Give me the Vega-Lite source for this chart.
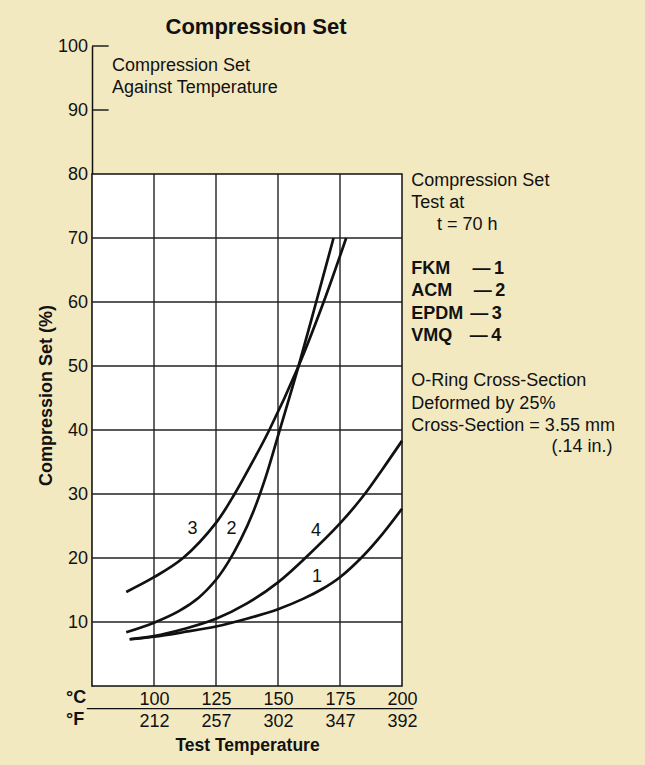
{
  "$schema": "https://vega.github.io/schema/vega-lite/v6.json",
  "width": 310,
  "height": 640,
  "autosize": {"type": "none"},
  "padding": {"left": 92, "top": 46, "right": 243, "bottom": 79},
  "background": "#f2e9c1",
  "config": {"view": {"stroke": null}, "font": "Liberation Sans"},
  "title": {"text": "Compression Set", "font": "Liberation Sans", "fontSize": 22, "fontWeight": "bold", "color": "#111", "anchor": "middle", "frame": "group", "dx": 9, "offset": -2},
  "datasets": {
    "curves": [
      {"material": "FKM", "temp": 90.2, "value": 7.3},
      {"material": "FKM", "temp": 100, "value": 7.7},
      {"material": "FKM", "temp": 111.7, "value": 8.4},
      {"material": "FKM", "temp": 125, "value": 9.3},
      {"material": "FKM", "temp": 137.4, "value": 10.5},
      {"material": "FKM", "temp": 150, "value": 12.0},
      {"material": "FKM", "temp": 160.3, "value": 13.65},
      {"material": "FKM", "temp": 168, "value": 15.2},
      {"material": "FKM", "temp": 175, "value": 17.0},
      {"material": "FKM", "temp": 184, "value": 20.2},
      {"material": "FKM", "temp": 192, "value": 23.7},
      {"material": "FKM", "temp": 200, "value": 27.7},
      {"material": "ACM", "temp": 88.8, "value": 8.4},
      {"material": "ACM", "temp": 100, "value": 9.9},
      {"material": "ACM", "temp": 110, "value": 11.7},
      {"material": "ACM", "temp": 118, "value": 13.8},
      {"material": "ACM", "temp": 125, "value": 16.6},
      {"material": "ACM", "temp": 130, "value": 19.4},
      {"material": "ACM", "temp": 135, "value": 22.9},
      {"material": "ACM", "temp": 140, "value": 27.2},
      {"material": "ACM", "temp": 145, "value": 32.6},
      {"material": "ACM", "temp": 150.4, "value": 39.6},
      {"material": "ACM", "temp": 158.3, "value": 50.0},
      {"material": "ACM", "temp": 165.4, "value": 60.0},
      {"material": "ACM", "temp": 172.4, "value": 70.0},
      {"material": "EPDM", "temp": 88.8, "value": 14.7},
      {"material": "EPDM", "temp": 100, "value": 17.0},
      {"material": "EPDM", "temp": 111.7, "value": 20.0},
      {"material": "EPDM", "temp": 125, "value": 25.5},
      {"material": "EPDM", "temp": 132.5, "value": 30.0},
      {"material": "EPDM", "temp": 139, "value": 34.5},
      {"material": "EPDM", "temp": 146.5, "value": 40.0},
      {"material": "EPDM", "temp": 158.3, "value": 50.0},
      {"material": "EPDM", "temp": 168.4, "value": 60.0},
      {"material": "EPDM", "temp": 177.5, "value": 70.0},
      {"material": "VMQ", "temp": 90.2, "value": 7.3},
      {"material": "VMQ", "temp": 100, "value": 7.8},
      {"material": "VMQ", "temp": 112, "value": 8.9},
      {"material": "VMQ", "temp": 125, "value": 10.5},
      {"material": "VMQ", "temp": 137.5, "value": 12.9},
      {"material": "VMQ", "temp": 150, "value": 16.2},
      {"material": "VMQ", "temp": 161, "value": 20.0},
      {"material": "VMQ", "temp": 175, "value": 25.4},
      {"material": "VMQ", "temp": 185, "value": 30.0},
      {"material": "VMQ", "temp": 192, "value": 33.8},
      {"material": "VMQ", "temp": 200, "value": 38.3}
    ],
    "curveLabels": [
      {"label": "3", "temp": 115.5, "value": 24.6},
      {"label": "2", "temp": 131.3, "value": 24.6},
      {"label": "4", "temp": 165.3, "value": 24.2},
      {"label": "1", "temp": 165.7, "value": 17.0}
    ],
    "vgrid": [{"temp": 100}, {"temp": 125}, {"temp": 150}, {"temp": 175}],
    "hgrid": [{"value": 10}, {"value": 20}, {"value": 30}, {"value": 40}, {"value": 50}, {"value": 60}, {"value": 70}],
    "upperTicks": [{"value": 90}, {"value": 100}],
    "notesRegular": [
      {"text": "Compression Set", "temp": 83.05, "value": 96.9},
      {"text": "Against Temperature", "temp": 83.05, "value": 93.5},
      {"text": "Compression Set", "temp": 203.76, "value": 78.9},
      {"text": "Test at", "temp": 203.76, "value": 75.5},
      {"text": "t = 70 h", "temp": 214.1, "value": 72.1},
      {"text": "O-Ring Cross-Section", "temp": 203.76, "value": 47.7},
      {"text": "Deformed by 25%", "temp": 203.76, "value": 44.1},
      {"text": "Cross-Section = 3.55 mm", "temp": 203.76, "value": 40.7},
      {"text": "(.14 in.)", "temp": 260.3, "value": 37.3}
    ],
    "notesBold": [
      {"text": "FKM", "temp": 203.76, "value": 65.2},
      {"text": "ACM", "temp": 203.76, "value": 61.7},
      {"text": "EPDM", "temp": 203.76, "value": 58.2},
      {"text": "VMQ", "temp": 203.76, "value": 54.7},
      {"text": "—\u20091", "temp": 228.4, "value": 65.2},
      {"text": "—\u20092", "temp": 228.9, "value": 61.7},
      {"text": "—\u20093", "temp": 227.5, "value": 58.2},
      {"text": "—\u20094", "temp": 227.3, "value": 54.7},
      {"text": "°C", "temp": 64.56, "value": -1.92},
      {"text": "°F", "temp": 64.56, "value": -5.36}
    ]
  },
  "layer": [
    {
      "data": {"values": [{"x0": 75, "x1": 200, "y0": 0, "y1": 80}]},
      "mark": {"type": "rect", "fill": "#ffffff", "stroke": "#111111", "strokeWidth": 1.5},
      "encoding": {
        "x": {
          "field": "x0", "type": "quantitative", "scale": {"domain": [75, 200], "nice": false, "zero": false},
          "axis": {
            "values": [100, 125, 150, 175, 200],
            "domain": false, "ticks": false, "grid": false,
            "labelExpr": "[datum.label, format(datum.value * 1.8 + 32, 'd')]",
            "labelLineHeight": 22, "labelFontSize": 18, "labelFont": "Liberation Sans", "labelColor": "#111111",
            "labelBaseline": "top", "labelPadding": 4.5, "labelFlush": false, "labelOverlap": false, "labelBound": false,
            "title": "Test Temperature", "titleFont": "Liberation Sans", "titleFontSize": 17.5, "titleFontWeight": "bold", "titleColor": "#111111",
            "titleBaseline": "middle", "titleY": 59
          }
        },
        "x2": {"field": "x1"},
        "y": {
          "field": "y0", "type": "quantitative", "scale": {"domain": [0, 100], "nice": false},
          "axis": {
            "values": [10, 20, 30, 40, 50, 60, 70, 80, 90, 100],
            "grid": false, "ticks": false,
            "domainColor": "#111111", "domainWidth": 1.5,
            "labelFontSize": 18, "labelFont": "Liberation Sans", "labelColor": "#111111", "labelPadding": 4.5,
            "title": "Compression Set (%)", "titleFont": "Liberation Sans", "titleFontSize": 18, "titleFontWeight": "bold", "titleColor": "#111111",
            "titleBaseline": "middle", "titleAngle": -90, "titleX": -46, "titleY": 349
          }
        },
        "y2": {"field": "y1"}
      }
    },
    {
      "data": {"name": "vgrid"},
      "mark": {"type": "rule", "stroke": "#222222", "strokeWidth": 1.4},
      "encoding": {
        "x": {"field": "temp", "type": "quantitative"},
        "y": {"datum": 0, "type": "quantitative"},
        "y2": {"datum": 80}
      }
    },
    {
      "data": {"name": "hgrid"},
      "mark": {"type": "rule", "stroke": "#222222", "strokeWidth": 1.4},
      "encoding": {
        "y": {"field": "value", "type": "quantitative"},
        "x": {"datum": 75, "type": "quantitative"},
        "x2": {"datum": 200}
      }
    },
    {
      "data": {"name": "upperTicks"},
      "mark": {"type": "rule", "stroke": "#111111", "strokeWidth": 1.4},
      "encoding": {
        "y": {"field": "value", "type": "quantitative"},
        "x": {"datum": 75, "type": "quantitative"},
        "x2": {"datum": 81.7}
      }
    },
    {
      "data": {"values": [{"xa": 72.9, "xb": 204.6, "yv": -3.53}]},
      "mark": {"type": "rule", "stroke": "#111111", "strokeWidth": 1.2},
      "encoding": {
        "x": {"field": "xa", "type": "quantitative"},
        "x2": {"field": "xb"},
        "y": {"field": "yv", "type": "quantitative"}
      }
    },
    {
      "data": {"name": "curves"},
      "mark": {"type": "line", "interpolate": "catmull-rom", "stroke": "#111111", "strokeWidth": 2.7, "strokeCap": "butt"},
      "encoding": {
        "detail": {"field": "material"},
        "x": {"field": "temp", "type": "quantitative"},
        "y": {"field": "value", "type": "quantitative"}
      }
    },
    {
      "data": {"name": "curveLabels"},
      "mark": {"type": "text", "fontSize": 18, "font": "Liberation Sans", "color": "#111111", "align": "center", "baseline": "middle"},
      "encoding": {
        "x": {"field": "temp", "type": "quantitative"},
        "y": {"field": "value", "type": "quantitative"},
        "text": {"field": "label"}
      }
    },
    {
      "data": {"name": "notesRegular"},
      "mark": {"type": "text", "fontSize": 18, "font": "Liberation Sans", "color": "#111111", "align": "left", "baseline": "middle"},
      "encoding": {
        "x": {"field": "temp", "type": "quantitative"},
        "y": {"field": "value", "type": "quantitative"},
        "text": {"field": "text"}
      }
    },
    {
      "data": {"name": "notesBold"},
      "mark": {"type": "text", "fontSize": 18, "font": "Liberation Sans", "fontWeight": "bold", "color": "#111111", "align": "left", "baseline": "middle"},
      "encoding": {
        "x": {"field": "temp", "type": "quantitative"},
        "y": {"field": "value", "type": "quantitative"},
        "text": {"field": "text"}
      }
    }
  ]
}
